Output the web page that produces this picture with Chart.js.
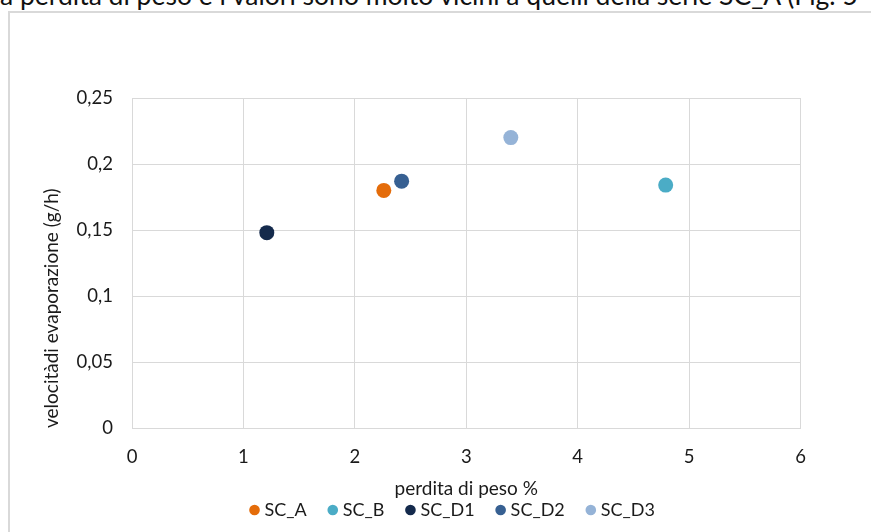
<!DOCTYPE html>
<html>
<head>
<meta charset="utf-8">
<script src="https://cdn.jsdelivr.net/npm/chart.js@4/dist/chart.umd.min.js"></script>
<style>
  html, body { margin: 0; padding: 0; background: #fff; overflow: hidden; }
  #page { position: relative; width: 871px; height: 532px; overflow: hidden; }
  #testo {
    position: absolute; left: 0; top: -18.5px; white-space: nowrap;
    font: 26.5px/26.5px Lato, sans-serif; color: #111;
  }
  #cornice {
    position: absolute; left: 8px; top: 11px; width: 900px; height: 540px;
    border-left: 2px solid #d9d9d9; border-top: 2px solid #d9d9d9;
  }
  #grafico { position: absolute; left: 0; top: 0; }
</style>
</head>
<body>
<div id="page">
  <div id="testo">a perdita di peso e i valori sono molto vicini a quelli della serie SC_A (Fig. 5</div>
  <div id="cornice"></div>
  <canvas id="grafico" width="871" height="532"></canvas>
</div>
<script>
  // serie misurate: perdita di peso (%) e velocità di evaporazione (g/h)
  const serie = ["SC_A", "SC_B", "SC_D1", "SC_D2", "SC_D3"];
  const perditaPeso = [2.26, 4.79, 1.21, 2.42, 3.40];
  const velocita = [0.18, 0.184, 0.148, 0.187, 0.22];
  const colori = ["#e46c0a", "#4bacc6", "#142a4c", "#376092", "#95b3d7"];

  const xTicks = ["0", "1", "2", "3", "4", "5", "6"];
  const yTicks = ["0", "0,05", "0,1", "0,15", "0,2", "0,25"];

  const FONT_TICK = { family: "Lato, sans-serif", size: 18.5 };
  const FONT_TITOLO = { family: "Lato, sans-serif", size: 19 };
  const FONT_LEGENDA = { family: "Lato, sans-serif", size: 18 };
  const TESTO = "#1a1a1a";
  const GRIGIO = "#d9d9d9";

  const datasets = serie.map((nome, i) => ({
    label: nome,
    data: [{ x: perditaPeso[i], y: velocita[i] }],
    backgroundColor: colori[i],
    borderColor: colori[i],
    borderWidth: 0,
    pointRadius: 7.5,
    pointHoverRadius: 7.5,
  }));

  // la legenda è centrata un po' più a destra dell'intera larghezza
  const spostaLegenda = {
    id: "spostaLegenda",
    afterLayout(chart) {
      if (chart.legend) chart.legend.left = 108;
    },
  };

  new Chart(document.getElementById("grafico"), {
    type: "scatter",
    data: { datasets },
    plugins: [spostaLegenda],
    options: {
      responsive: false,
      animation: false,
      devicePixelRatio: 1,
      layout: { padding: { top: 98, right: 70.5, bottom: 3, left: 0 } },
      plugins: {
        tooltip: { enabled: false },
        legend: {
          position: "bottom",
          labels: {
            usePointStyle: true,
            pointStyle: "circle",
            boxWidth: 2,
            boxHeight: 7.5,
            padding: 25,
            color: TESTO,
            font: FONT_LEGENDA,
          },
        },
      },
      scales: {
        x: {
          type: "linear",
          min: 0,
          max: 6,
          afterFit: (s) => { s.height = 48; },
          ticks: {
            stepSize: 1,
            padding: 17.9,
            color: TESTO,
            font: FONT_TICK,
            callback: (v, i) => xTicks[i],
          },
          grid: { color: GRIGIO, lineWidth: 1, drawTicks: false },
          border: { color: GRIGIO, width: 1 },
          title: {
            display: true,
            text: "perdita di peso %",
            color: TESTO,
            font: FONT_TITOLO,
            padding: { top: 0, bottom: -23.9 },
          },
        },
        y: {
          min: 0,
          max: 0.25,
          afterFit: (s) => { s.width = 132; },
          ticks: {
            stepSize: 0.05,
            padding: 19,
            color: TESTO,
            font: FONT_TICK,
            callback: (v, i) => yTicks[i],
          },
          grid: { color: GRIGIO, lineWidth: 1, drawTicks: false },
          border: { color: GRIGIO, width: 1 },
          title: {
            display: true,
            text: "velocitàdi evaporazione (g/h)",
            align: "start",
            color: TESTO,
            font: FONT_TITOLO,
            padding: { top: 40.6, bottom: 0 },
          },
        },
      },
    },
  });
</script>
</body>
</html>
